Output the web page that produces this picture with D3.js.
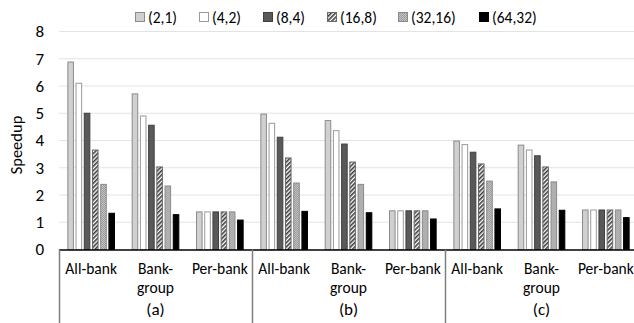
<!DOCTYPE html>
<html>
<head>
<meta charset="utf-8">
<script src="https://cdn.jsdelivr.net/npm/d3@7"></script>
<style>
  html, body { margin: 0; padding: 0; background: #fff; }
  svg { display: block; }
  text { font-family: Carlito, "Open Sans", "Noto Sans", sans-serif; fill: #000; }
</style>
</head>
<body>
<svg id="chart" width="634" height="323"></svg>
<script>
// Refresh-scheme configurations, one bar per series
const series = ["(2,1)", "(4,2)", "(8,4)", "(16,8)", "(32,16)", "(64,32)"];
// Panels and the refresh granularity inside each
const panels = ["(a)", "(b)", "(c)"];
const granularities = ["All-bank", "Bank-\ngroup", "Per-bank"];
// Speedup per panel/granularity, in series order
const panelA = [
  [6.88, 6.10, 5.00, 3.65, 2.39, 1.33],
  [5.71, 4.90, 4.56, 3.03, 2.33, 1.28],
  [1.38, 1.38, 1.38, 1.38, 1.38, 1.08]
];
const panelB = [
  [4.97, 4.63, 4.12, 3.36, 2.44, 1.40],
  [4.73, 4.36, 3.87, 3.21, 2.39, 1.35],
  [1.42, 1.42, 1.42, 1.42, 1.42, 1.12]
];
const panelC = [
  [3.98, 3.85, 3.57, 3.14, 2.51, 1.49],
  [3.83, 3.65, 3.44, 3.03, 2.48, 1.44],
  [1.45, 1.45, 1.45, 1.45, 1.45, 1.17]
];
const yTicks = [0, 1, 2, 3, 4, 5, 6, 7, 8];

const svg = d3.select("#chart");
const defs = svg.append("defs");

// Diagonal hatch for (16,8)
const hatch = defs.append("pattern").attr("id", "hatch")
  .attr("patternUnits", "userSpaceOnUse").attr("width", 3).attr("height", 3)
  .attr("patternTransform", "rotate(45)");
hatch.append("rect").attr("width", 3).attr("height", 3).attr("fill", "#ffffff");
hatch.append("rect").attr("width", 1.6).attr("height", 3).attr("fill", "#3a3a3a");

// Fine dot texture for (32,16)
const dots = defs.append("pattern").attr("id", "dots")
  .attr("patternUnits", "userSpaceOnUse").attr("width", 2).attr("height", 2);
dots.append("rect").attr("width", 2).attr("height", 2).attr("fill", "#9a9a9a");
dots.append("rect").attr("width", 1).attr("height", 1).attr("fill", "#c4c4c4");
dots.append("rect").attr("x", 1).attr("y", 1).attr("width", 1).attr("height", 1).attr("fill", "#c4c4c4");

const fills = ["#d0d0d0", "#ffffff", "#595959", "url(#hatch)", "url(#dots)", "#000000"];
const strokes = ["#8c8c8c", "#9a9a9a", "#404040", "#6a6a6a", "#8a8a8a", "#000000"];

const plotLeft = 59, plotRight = 638, plotTop = 31.5, plotBottom = 249.5;

const rows = [];
[panelA, panelB, panelC].forEach((p, pi) => {
  p.forEach((vals, gi) => {
    rows.push({ key: pi + "-" + gi, panel: pi, label: granularities[gi], values: vals });
  });
});

const x0 = d3.scaleBand().domain(rows.map(d => d.key)).range([plotLeft, plotRight]).padding(0);
const inset = x0.bandwidth() * 0.117;
const x1 = d3.scaleBand().domain(series).range([inset, x0.bandwidth() - inset]).paddingInner(0.2).paddingOuter(0.1);
const y = d3.scaleLinear().domain([0, 8]).range([plotBottom, plotTop]);

// Horizontal gridlines
svg.append("g").selectAll("line").data(yTicks.filter(t => t > 0)).join("line")
  .attr("x1", plotLeft).attr("x2", 634)
  .attr("y1", d => y(d)).attr("y2", d => y(d))
  .attr("stroke", "#e3e3e3").attr("stroke-width", 1);

// Y axis tick labels (no axis line)
const yAxis = svg.append("g").attr("transform", `translate(${plotLeft},0)`)
  .call(d3.axisLeft(y).tickValues(yTicks).tickSize(0).tickPadding(15));
yAxis.select(".domain").remove();
yAxis.selectAll("text").style("font-size", "17px").attr("fill", "#000")
  .style("font-family", 'Carlito, "Open Sans", "Noto Sans", sans-serif');

svg.append("text")
  .attr("transform", `translate(22,145) rotate(-90)`)
  .attr("text-anchor", "middle").style("font-size", "16.5px").text("Speedup");

// Bars
const groups = svg.append("g").selectAll("g").data(rows).join("g")
  .attr("transform", d => `translate(${x0(d.key)},0)`);
groups.selectAll("rect").data(d => d.values.map((v, i) => ({ v, i }))).join("rect")
  .attr("x", d => x1(series[d.i]) + 0.5)
  .attr("y", d => y(d.v))
  .attr("width", x1.bandwidth() - 1)
  .attr("height", d => plotBottom - y(d.v))
  .attr("fill", d => fills[d.i])
  .attr("stroke", d => strokes[d.i])
  .attr("stroke-width", 1);

// Baseline
svg.append("line").attr("x1", plotLeft).attr("x2", 634).attr("y1", plotBottom + 0.5).attr("y2", plotBottom + 0.5)
  .attr("stroke", "#000").attr("stroke-width", 1.5);

// Panel separators below the baseline
const panelEdges = [0, 3, 6, 9].map(i => i < 9 ? x0(rows[i].key) : plotRight);
svg.append("g").selectAll("line").data(panelEdges).join("line")
  .attr("x1", d => Math.round(d) + 0.5).attr("x2", d => Math.round(d) + 0.5)
  .attr("y1", plotBottom).attr("y2", 323)
  .attr("stroke", "#7f7f7f").attr("stroke-width", 1.5);

// Granularity labels
const catLabels = svg.append("g").selectAll("text").data(rows).join("text")
  .attr("text-anchor", "middle")
  .attr("x", d => x0(d.key) + x0.bandwidth() / 2)
  .attr("y", 274)
  .style("font-size", "15.5px");
catLabels.each(function (d) {
  const lines = d.label.split("\n");
  d3.select(this).selectAll("tspan").data(lines).join("tspan")
    .attr("x", x0(d.key) + x0.bandwidth() / 2)
    .attr("dy", (l, i) => i === 0 ? 0 : 19)
    .text(l => l);
});

// Panel labels
svg.append("g").selectAll("text").data(panels).join("text")
  .attr("text-anchor", "middle")
  .attr("x", (d, i) => x0(rows[i * 3 + 1].key) + x0.bandwidth() / 2)
  .attr("y", 315)
  .style("font-size", "17px")
  .text(d => d);

// Legend
const legendX = [135, 199, 263, 327, 398, 479];
const legend = svg.append("g").selectAll("g").data(series).join("g")
  .attr("transform", (d, i) => `translate(${legendX[i]},12)`);
legend.append("rect").attr("x", 0.5).attr("y", 0.5).attr("width", 9).attr("height", 9)
  .attr("fill", (d, i) => fills[i]).attr("stroke", (d, i) => strokes[i]);
legend.append("text").attr("x", 13).attr("y", 10.5).style("font-size", "15.5px").text(d => d);
</script>
</body>
</html>
